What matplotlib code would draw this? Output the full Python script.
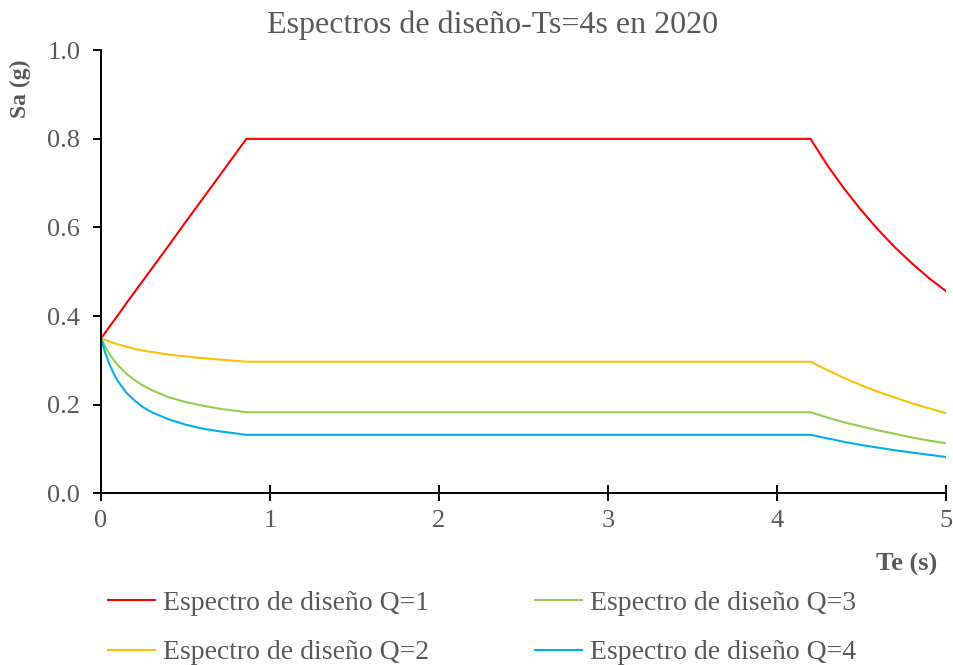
import matplotlib
matplotlib.use("Agg")
import matplotlib.pyplot as plt

# ---------------------------------------------------------------------------
# Data (periods in s, Sa in g)
# ---------------------------------------------------------------------------
periods = [0.0, 0.025, 0.05, 0.075, 0.1, 0.15, 0.2, 0.25, 0.3, 0.4, 0.5, 0.6, 0.7, 0.86,
           4.2, 4.3, 4.4, 4.5, 4.6, 4.7, 4.8, 4.9, 5.0]

sa_q1 = [0.350, 0.363, 0.376, 0.389, 0.402, 0.429, 0.455, 0.481, 0.507, 0.559, 0.612, 0.664, 0.716, 0.800,
         0.800, 0.740, 0.687, 0.639, 0.595, 0.555, 0.519, 0.486, 0.457]
sa_q2 = [0.350, 0.346, 0.343, 0.339, 0.336, 0.331, 0.326, 0.322, 0.319, 0.313, 0.309, 0.305, 0.302, 0.297,
         0.297, 0.278, 0.260, 0.244, 0.229, 0.216, 0.203, 0.192, 0.181]
sa_q3 = [0.350, 0.331, 0.314, 0.301, 0.289, 0.270, 0.255, 0.243, 0.233, 0.217, 0.206, 0.198, 0.191, 0.183,
         0.183, 0.171, 0.160, 0.151, 0.142, 0.134, 0.126, 0.119, 0.113]
sa_q4 = [0.350, 0.317, 0.291, 0.270, 0.253, 0.227, 0.209, 0.194, 0.183, 0.167, 0.155, 0.146, 0.140, 0.132,
         0.132, 0.124, 0.116, 0.109, 0.103, 0.097, 0.092, 0.087, 0.082]

series = [
    ("Espectro de diseño Q=1", sa_q1, "#FF0000"),
    ("Espectro de diseño Q=2", sa_q2, "#FFC000"),
    ("Espectro de diseño Q=3", sa_q3, "#92D050"),
    ("Espectro de diseño Q=4", sa_q4, "#00B0F0"),
]

x_ticks = [0, 1, 2, 3, 4, 5]
y_ticks = [0.0, 0.2, 0.4, 0.6, 0.8, 1.0]

TEXT = "#595959"
plt.rcParams["font.family"] = ["Liberation Serif", "DejaVu Serif"]

fig = plt.figure(figsize=(9.54, 6.65), dpi=100)
ax = fig.add_axes([0.1059, 0.2582, 0.8854, 0.6662])

for label, vals, col in series:
    ax.plot(periods, vals, color=col, linewidth=1.5, label=label)

ax.set_xlim(0, 5)
ax.set_ylim(0, 1.0)
ax.set_xticks(x_ticks)
ax.set_xticklabels([str(t) for t in x_ticks])
ax.set_yticks(y_ticks)
ax.set_yticklabels([f"{t:.1f}" for t in y_ticks])

for side in ("top", "right"):
    ax.spines[side].set_visible(False)
for side in ("left", "bottom"):
    ax.spines[side].set_linewidth(1.4)
    ax.spines[side].set_color("black")

ax.tick_params(axis="x", direction="inout", length=12, width=1.4, colors="black",
               labelcolor=TEXT, labelsize=19, pad=6)
ax.tick_params(axis="y", direction="out", length=6, width=1.4, colors="black",
               labelcolor=TEXT, labelsize=19, pad=9)

# title, axis labels
fig.text(0.516, 0.962, "Espectros de diseño-Ts=4s en 2020", fontsize=23,
         color=TEXT, ha="center", va="center")
fig.text(0.021, 0.866, "Sa (g)", rotation=90, fontsize=17, fontweight="bold",
         color=TEXT, ha="center", va="center")
fig.text(0.950, 0.151, "Te (s)", fontsize=19, fontweight="bold",
         color=TEXT, ha="center", va="center")

leg = fig.legend(loc="center left", bbox_to_anchor=(0.113, 0.0556), ncol=2,
                 frameon=False, fontsize=20, borderpad=0, borderaxespad=0,
                 handlelength=1.7, handletextpad=0.29, columnspacing=3.8,
                 labelspacing=0.85)
for txt in leg.get_texts():
    txt.set_color(TEXT)

fig.savefig("out.png", dpi=100)
